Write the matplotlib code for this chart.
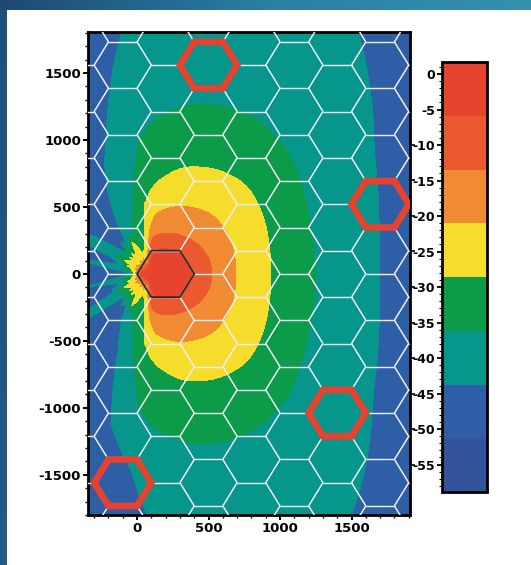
import numpy as np
import matplotlib
matplotlib.use('Agg')
import matplotlib.pyplot as plt
from matplotlib.collections import LineCollection
from matplotlib.patches import Polygon
from matplotlib.ticker import MultipleLocator
from matplotlib.colors import LinearSegmentedColormap

plt.rcParams['font.family'] = ['DejaVu Sans']
plt.rcParams['font.weight'] = 'bold'
plt.rcParams['axes.unicode_minus'] = False

# ---------------- data ----------------
# colour-bar band edges (dB) and band colours (low -> high)
band_edges = [-58.86, -51.29, -43.72, -36.15, -28.58, -21.01, -13.44, -5.87, 1.70]
band_colors = ['#33549A', '#2E5FA6', '#06968B', '#0B9B49',
               '#F6DD2C', '#F08A33', '#EB5A2E', '#E7432F']
cbar_ticks = [0, -5, -10, -15, -20, -25, -30, -35, -40, -45, -50, -55]

# transmitter position (m)
source_x, source_y = 100, 0

# distance (m) from the transmitter to each contour boundary, by bearing (deg)
front_angles = [0, 15, 30, 45, 60, 75, 90]
back_angles = [95, 100, 104, 108, 112, 116, 120, 124, 128, 132, 136, 140,
               144, 148, 152, 156, 160, 164, 168, 172, 176, 180]

r_m6_front = [285, 278, 262, 240, 215, 190, 120]
r_m6_back = [90, 70, 60, 50, 45, 60, 45, 40, 55, 45, 40, 50,
             45, 55, 50, 45, 55, 60, 65, 70, 75, 80]
r_m13_front = [424, 418, 400, 372, 345, 315, 270]
r_m13_back = [150, 100, 85, 75, 70, 90, 70, 65, 85, 70, 60, 80,
              70, 85, 75, 70, 85, 90, 90, 90, 95, 95]
r_m21_front = [590, 598, 610, 615, 575, 515, 425]
r_m21_back = [220, 140, 115, 105, 100, 130, 100, 95, 125, 100, 85, 115,
              95, 130, 105, 95, 120, 110, 105, 105, 110, 110]
r_m29_front = [830, 850, 895, 940, 905, 825, 652]
r_m29_back = [531, 253, 190, 180, 160, 230, 280, 200, 170, 210, 150, 200,
              160, 190, 220, 150, 180, 150, 140, 130, 125, 120]
r_m36_front = [1145, 1155, 1225, 1330, 1375, 1325, 1149]
r_m36_back = [1000, 690, 520, 420, 340, 290, 330, 240, 230, 300, 220, 240,
              230, 260, 280, 190, 210, 200, 190, 170, 150, 140]
r_m44_front_upper = [1585, 1640, 1790, 2130, 2600, 2700, 2300]
r_m44_back_upper = [1950, 1550, 1260, 1030, 870, 700, 520, 380, 280, 320, 240, 260,
                    420, 700, 700, 300, 240, 260, 600, 250, 170, 150]
r_m44_front_lower = [1585, 1640, 1780, 2100, 2500, 2600, 1900]
r_m44_back_lower = [1500, 1300, 1160, 850, 620, 500, 420, 330, 280, 320, 240, 300,
                    650, 600, 300, 300, 240, 260, 450, 250, 170, 150]
r_m51_front = [2200, 2400, 2700, 3500, 3500, 3500, 3500]
r_m51_back = [3000, 2800, 2700, 2600, 2500, 2500, 2500, 2500, 2500, 2500, 2500, 2500,
              2500, 2500, 2500, 2500, 2500, 2500, 2500, 2500, 2500, 2500]

# hexagonal cell layout
cell_radius = 200
cell_origin_x, cell_origin_y = 200, 0
serving_cell = (0, 0)
red_cells_i = [1, 5, 4, -1]
red_cells_j = [4, 1, -3, -5]

x_ticks = [0, 500, 1000, 1500]
y_ticks = [-1500, -1000, -500, 0, 500, 1000, 1500]
x_range = (-343, 1909)
y_range = (-1800, 1806)

# ---------------- figure ----------------
W, H = 531, 565
fig = plt.figure(figsize=(W / 100, H / 100), dpi=100)
fig.patch.set_facecolor('white')

# decorative frame strips
top = fig.add_axes([0, 1 - 10 / H, 1, 10 / H])
top.imshow(np.linspace(0, 1, 256)[None, :], aspect='auto',
           cmap=LinearSegmentedColormap.from_list('t', ['#1D4A73', '#2A7FA3', '#3790AE']))
top.axis('off')
left = fig.add_axes([0, 0, 7 / W, 1 - 10 / H])
left.imshow(np.linspace(0, 1, 256)[:, None], aspect='auto',
            cmap=LinearSegmentedColormap.from_list('l', ['#1F5079', '#245A84']))
left.axis('off')

ax = fig.add_axes([88 / W, 1 - 515 / H, 322 / W, 483 / H])

# ---- field built from the contour-boundary table ----
angles = front_angles + back_angles
levels_desc = band_edges[7:0:-1]          # -5.87 ... -51.29
common = [r_m6_front + r_m6_back, r_m13_front + r_m13_back,
          r_m21_front + r_m21_back, r_m29_front + r_m29_back,
          r_m36_front + r_m36_back]
bounds_upper = common + [r_m44_front_upper + r_m44_back_upper, r_m51_front + r_m51_back]
bounds_lower = common + [r_m44_front_lower + r_m44_back_lower, r_m51_front + r_m51_back]

fine = np.arange(0, 180.01, 0.5)
kern = np.ones(21) / 21.0


def fine_tables(bounds):
    out = []
    for b in bounds:
        lf = np.interp(fine, angles, np.log(b))
        pad = np.concatenate([lf[10:0:-1], lf, lf[-2:-12:-1]])
        sm = np.convolve(pad, kern, mode='same')[10:-10]
        w = np.clip((95 - fine) / 6.0, 0, 1)
        out.append(w * sm + (1 - w) * lf)
    return out


def field(th, lr, bounds):
    LR = np.array([np.interp(th, fine, fl) for fl in fine_tables(bounds)])
    F = np.zeros_like(lr)
    m = lr < LR[0]
    F[m] = levels_desc[0] + (LR[0][m] - lr[m]) * 20
    for k in range(len(levels_desc) - 1):
        m = (lr >= LR[k]) & (lr < LR[k + 1])
        t = (lr[m] - LR[k][m]) / (LR[k + 1][m] - LR[k][m])
        F[m] = levels_desc[k] + (levels_desc[k + 1] - levels_desc[k]) * t
    m = lr >= LR[-1]
    F[m] = levels_desc[-1] - 3
    return F


xg = np.linspace(x_range[0], x_range[1], 700)
yg = np.linspace(y_range[0], y_range[1], 900)
X, Y = np.meshgrid(xg, yg)
dx = X - source_x
dy = Y - source_y
r = np.hypot(dx, dy).clip(3)
th = np.degrees(np.arctan2(np.abs(dy), dx))
lr = np.log(r)
F = np.where(dy >= 0, field(th, lr, bounds_upper), field(th, lr, bounds_lower))
F = np.clip(F, band_edges[0] + 0.01, band_edges[-1] - 0.01)

cs = ax.contourf(X, Y, F, levels=band_edges, colors=band_colors)

# ---- hex grid ----
def hex_center(i, j):
    cx = cell_origin_x + 1.5 * cell_radius * i
    cy = cell_origin_y + np.sqrt(3) * cell_radius * (j + 0.5 * (i % 2))
    return cx, cy


def hex_verts(cx, cy):
    a = np.radians(np.arange(0, 360, 60))
    return np.column_stack([cx + cell_radius * np.cos(a), cy + cell_radius * np.sin(a)])


segs = []
for i in range(-3, 8):
    for j in range(-7, 8):
        v = hex_verts(*hex_center(i, j))
        for k in range(6):
            segs.append([v[k], v[(k + 1) % 6]])
ax.add_collection(LineCollection(segs, colors='#EEEEF6', linewidths=0.9, alpha=0.9, zorder=3))

ax.add_patch(Polygon(hex_verts(*hex_center(*serving_cell)), closed=True, fill=False,
                     edgecolor='#2A2A2A', linewidth=1.3, zorder=4))
for i, j in zip(red_cells_i, red_cells_j):
    ax.add_patch(Polygon(hex_verts(*hex_center(i, j)), closed=True, fill=False,
                         edgecolor='#E5432F', linewidth=4.8, joinstyle='miter', zorder=5))

ax.set_xlim(*x_range)
ax.set_ylim(*y_range)
ax.set_xticks(x_ticks)
ax.set_yticks(y_ticks)
ax.xaxis.set_minor_locator(MultipleLocator(100))
ax.yaxis.set_minor_locator(MultipleLocator(100))
ax.tick_params(which='major', direction='out', length=3.5, width=1.4, labelsize=9.5, pad=1.5)
ax.tick_params(which='minor', direction='out', length=2.2, width=1.0)
ax.tick_params(top=False, right=False, which='both')
for lab in ax.get_xticklabels() + ax.get_yticklabels():
    lab.set_fontweight('bold')
for s in ax.spines.values():
    s.set_linewidth(2.0)

# ticks on the right spine, aligned with the colour-bar ticks
ax2 = ax.twinx()
ax2.set_ylim(-62.1, 5.9)
ax2.set_yticks([-55, -50, -45, -40, -35, -30, -25, -20, -15, -10])
ax2.set_yticklabels([])
ax2.tick_params(direction='out', length=3.5, width=1.2)
for s in ax2.spines.values():
    s.set_visible(False)

# ---- colour bar ----
cax = fig.add_axes([442 / W, 1 - 492 / H, 45 / W, 430 / H])
cb = fig.colorbar(cs, cax=cax, ticks=cbar_ticks)
cax.yaxis.set_ticks_position('left')
cax.yaxis.set_label_position('left')
cax.yaxis.set_minor_locator(MultipleLocator(1))
cax.tick_params(which='major', direction='out', length=3.5, width=1.3, labelsize=9, pad=1.5)
cax.tick_params(which='minor', direction='out', length=2, width=0.8)
cax.set_yticklabels([str(t) for t in cbar_ticks])
for lab in cax.get_yticklabels():
    lab.set_fontweight('bold')
cb.outline.set_linewidth(2.0)

fig.savefig('out.png', dpi=100, facecolor='white')
